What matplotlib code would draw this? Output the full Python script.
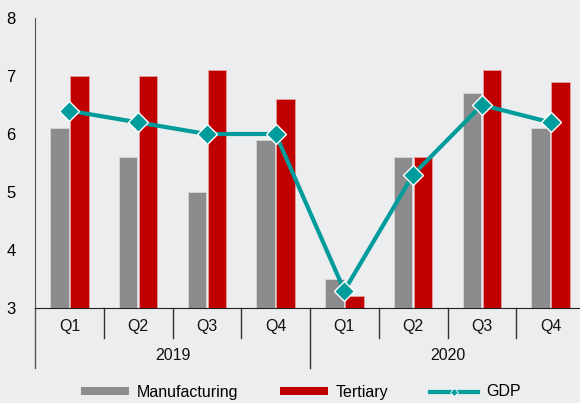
import matplotlib
matplotlib.use("Agg")
import matplotlib.pyplot as plt
import matplotlib.transforms as mtransforms
from matplotlib.patches import Patch
from matplotlib.lines import Line2D
import numpy as np

plt.rcParams['font.family'] = ['Liberation Sans', 'DejaVu Sans']

quarters = ["Q1", "Q2", "Q3", "Q4", "Q1", "Q2", "Q3", "Q4"]
years = ["2019", "2020"]
manufacturing = [6.1, 5.6, 5.0, 5.9, 3.5, 5.6, 6.7, 6.1]
tertiary = [7.0, 7.0, 7.1, 6.6, 3.2, 5.6, 7.1, 6.9]
gdp = [6.4, 6.2, 6.0, 6.0, 3.3, 5.3, 6.5, 6.2]

bg = "#ECEDEF"
gray = "#8C8C8E"
red = "#C00000"
teal = "#009B9B"

W, H = 580, 403
fig = plt.figure(figsize=(W/100, H/100), dpi=100, facecolor=bg)
ax = fig.add_axes([35/W, 1-308/H, 550/W, 290/H], facecolor=bg)

x = np.arange(len(quarters))
bw = 0.27
ax.bar(x - 0.145, manufacturing, bw, color=gray, edgecolor="#d8d8d8", linewidth=0.6, zorder=2)
ax.bar(x + 0.145, tertiary, bw, color=red, edgecolor="#e8a0a0", linewidth=0.6, zorder=2)
ax.plot(x, gdp, color=teal, lw=3, marker="D", ms=10, mfc=teal, mec="white", mew=1, zorder=3)

ax.set_ylim(3, 8)
ax.set_xlim(-0.5, len(quarters) - 0.5)
ax.set_yticks([3, 4, 5, 6, 7, 8])
ax.tick_params(axis='y', length=0, labelsize=12, pad=14)
ax.set_xticks([])
for s in ["top", "right"]:
    ax.spines[s].set_visible(False)
ax.spines["left"].set_color("#555555")
ax.spines["left"].set_bounds(3, 8)
ax.spines["bottom"].set_color("#222222")

trans = mtransforms.blended_transform_factory(ax.transData, ax.transAxes)
ax_h = 290
q_bottom = -30 / ax_h
y_bottom = -60 / ax_h
# left spine extension
ax.plot([-0.5, -0.5], [0, y_bottom], transform=trans, color="#555555", lw=1, clip_on=False)
for i in range(1, len(quarters) + 1):
    xb = i - 0.5
    yb = y_bottom if i == 4 else q_bottom
    ax.plot([xb, xb], [0, yb], transform=trans, color="#333333", lw=1, clip_on=False)
for i, q in enumerate(quarters):
    ax.text(i, -18 / ax_h, q, transform=trans, ha="center", va="center", fontsize=11.5, color="#111111")
for j, yr in enumerate(years):
    ax.text(j * 4 + 1.5, -47 / ax_h, yr, transform=trans, ha="center", va="center", fontsize=11.5, color="#111111")

handles = [
    Patch(facecolor=gray, edgecolor="none"),
    Patch(facecolor=red, edgecolor="none"),
    Line2D([0], [0], color=teal, lw=3, marker="D", ms=4, mfc=teal, mec="white", mew=0.6),
]
leg = fig.legend(handles, ["Manufacturing", "Tertiary", "GDP"], loc="center",
                 bbox_to_anchor=(301/W, 1-392/H), ncol=3, frameon=False,
                 fontsize=11.5, handlelength=3.0, handleheight=0.45, columnspacing=2.6,
                 handletextpad=0.5)

fig.savefig("out.png", dpi=100, facecolor=bg)
